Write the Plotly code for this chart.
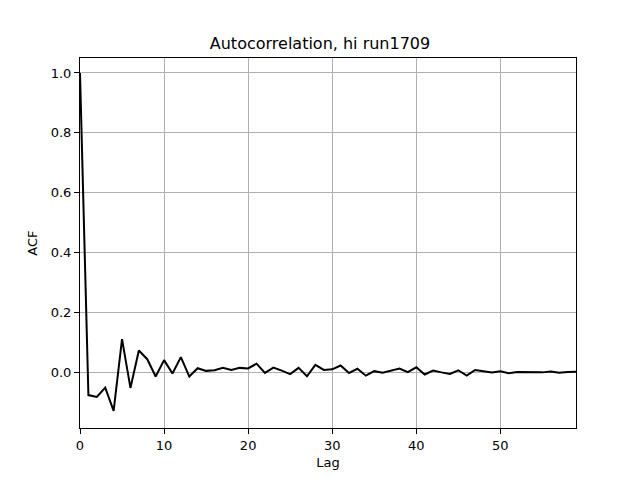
import plotly.graph_objects as go

lags = list(range(60))
acf = [1.0, -0.077, -0.083, -0.052, -0.13, 0.11, -0.053, 0.072, 0.043, -0.015,
       0.04, -0.005, 0.05, -0.015, 0.013, 0.004, 0.006, 0.014, 0.007, 0.014,
       0.012, 0.028, -0.003, 0.015, 0.005, -0.007, 0.014, -0.014, 0.024, 0.007,
       0.009, 0.022, -0.003, 0.011, -0.012, 0.003, -0.002, 0.006, 0.012, 0.000,
       0.016, -0.008, 0.005, -0.001, -0.006, 0.006, -0.012, 0.007, 0.004, -0.001,
       0.003, -0.004, 0.000, -0.001, 0.000, -0.001, 0.002, -0.002, 0.000, 0.001]
xticks = [0, 10, 20, 30, 40, 50]
yticks = [0.0, 0.2, 0.4, 0.6, 0.8, 1.0]

fig = go.Figure(go.Scatter(x=lags, y=acf, mode="lines",
                           line=dict(color="black", width=2)))

axis_common = dict(showline=True, linecolor="black", linewidth=1, mirror=True,
                   ticks="outside", ticklen=5, tickcolor="black",
                   showgrid=True, gridcolor="#b0b0b0", gridwidth=1,
                   zeroline=False, tickfont=dict(size=13, color="black"))

fig.update_layout(
    width=640, height=480,
    paper_bgcolor="white", plot_bgcolor="white",
    font=dict(family="DejaVu Sans", color="black", size=13),
    title=dict(text="Autocorrelation, hi run1709", x=0.5, xanchor="center",
               y=1 - 43 / 480, yanchor="middle", font=dict(size=16)),
    margin=dict(l=80, r=64, t=58, b=52),
    showlegend=False,
    xaxis=dict(range=[0, 59], tickvals=xticks,
               title=dict(text="Lag", standoff=6, font=dict(size=13)), **axis_common),
    yaxis=dict(range=[-0.187, 1.05], tickvals=yticks, tickformat=".1f",
               title=dict(text="ACF", standoff=10, font=dict(size=13)), **axis_common),
)

fig.write_html("out.html", config={"displayModeBar": False},
               post_script="document.body.style.margin='0';")
